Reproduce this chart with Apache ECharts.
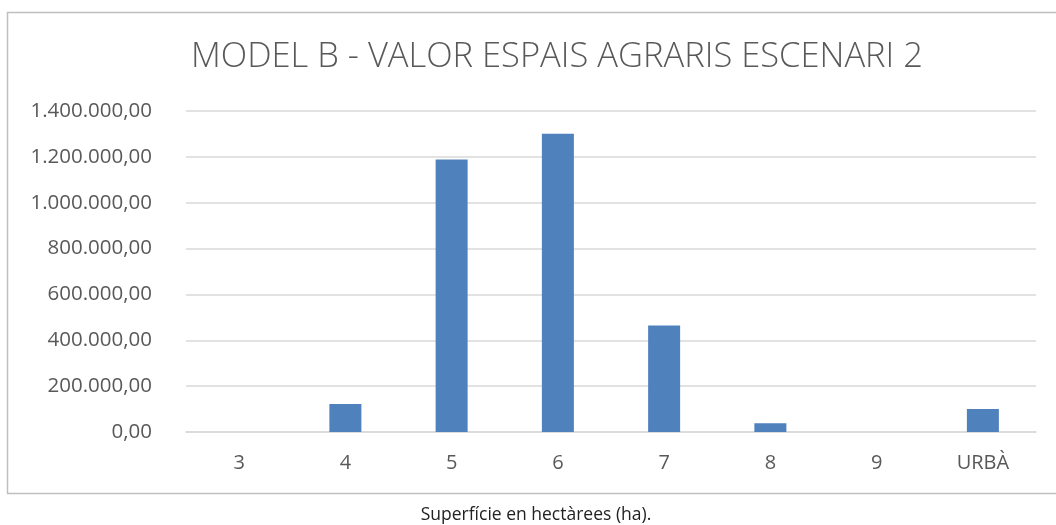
<!DOCTYPE html>
<html>
<head>
<meta charset="utf-8">
<script src="https://cdn.jsdelivr.net/npm/echarts@6/dist/echarts.min.js"></script>
<style>
  html, body { margin: 0; padding: 0; background: #fff; }
  #main { width: 1056px; height: 525px; }
</style>
</head>
<body>
<div id="main"></div>
<script>
const categories = ["3", "4", "5", "6", "7", "8", "9", "URBÀ"];
const values = [0, 122000, 1188000, 1301000, 464000, 38000, 0, 100000];
const titleText = "MODEL B - VALOR ESPAIS AGRARIS ESCENARI 2";
const captionText = "Superfície en hectàrees (ha).";

const chart = echarts.init(document.getElementById("main"));

// 1234567 -> "1.234.567,00"
function fmt(v) {
    const s = Math.round(v).toString().replace(/\B(?=(\d{3})+(?!\d))/g, ".");
    return s + ",00";
}

const font = "'Open Sans', sans-serif";

const option = {
    animation: false,
    title: {
        text: titleText,
        left: 552,
        textAlign: "center",
        top: 35,
        textStyle: {
            fontFamily: font,
            fontSize: 34.5,
            fontWeight: 300,
            color: "#595959",
        },
    },
    grid: {
        left: 186,
        right: 20,
        top: 111,
        bottom: 93,
    },
    xAxis: {
        type: "category",
        data: categories,
        axisLine: { lineStyle: { color: "#d9d9d9", width: 1.5 } },
        axisTick: { show: false },
        axisLabel: {
            fontFamily: font,
            fontSize: 20,
            color: "#595959",
            margin: 21,
        },
    },
    yAxis: {
        type: "value",
        min: 0,
        max: 1400000,
        interval: 200000,
        axisLine: { show: false },
        axisTick: { show: false },
        splitLine: { lineStyle: { color: "#d9d9d9", width: 1.5 } },
        axisLabel: {
            fontFamily: font,
            fontSize: 20.5,
            color: "#595959",
            margin: 34,
            formatter: fmt,
        },
    },
    series: [{
        type: "bar",
        data: values,
        barWidth: 32,
        itemStyle: { color: "#4f81bd" },
    }],
    graphic: [
        {
            type: "rect",
            shape: { x: 7.5, y: 12.5, width: 1060, height: 481 },
            style: { fill: "none", stroke: "#bfbfbf", lineWidth: 1.5 },
            silent: true,
        },
        {
            type: "text",
            x: 536,
            y: 515,
            style: {
                text: captionText,
                fontFamily: font,
                fontSize: 17.5,
                fill: "#222",
                align: "center",
                verticalAlign: "middle",
            },
        },
    ],
};

chart.setOption(option);
</script>
</body>
</html>
